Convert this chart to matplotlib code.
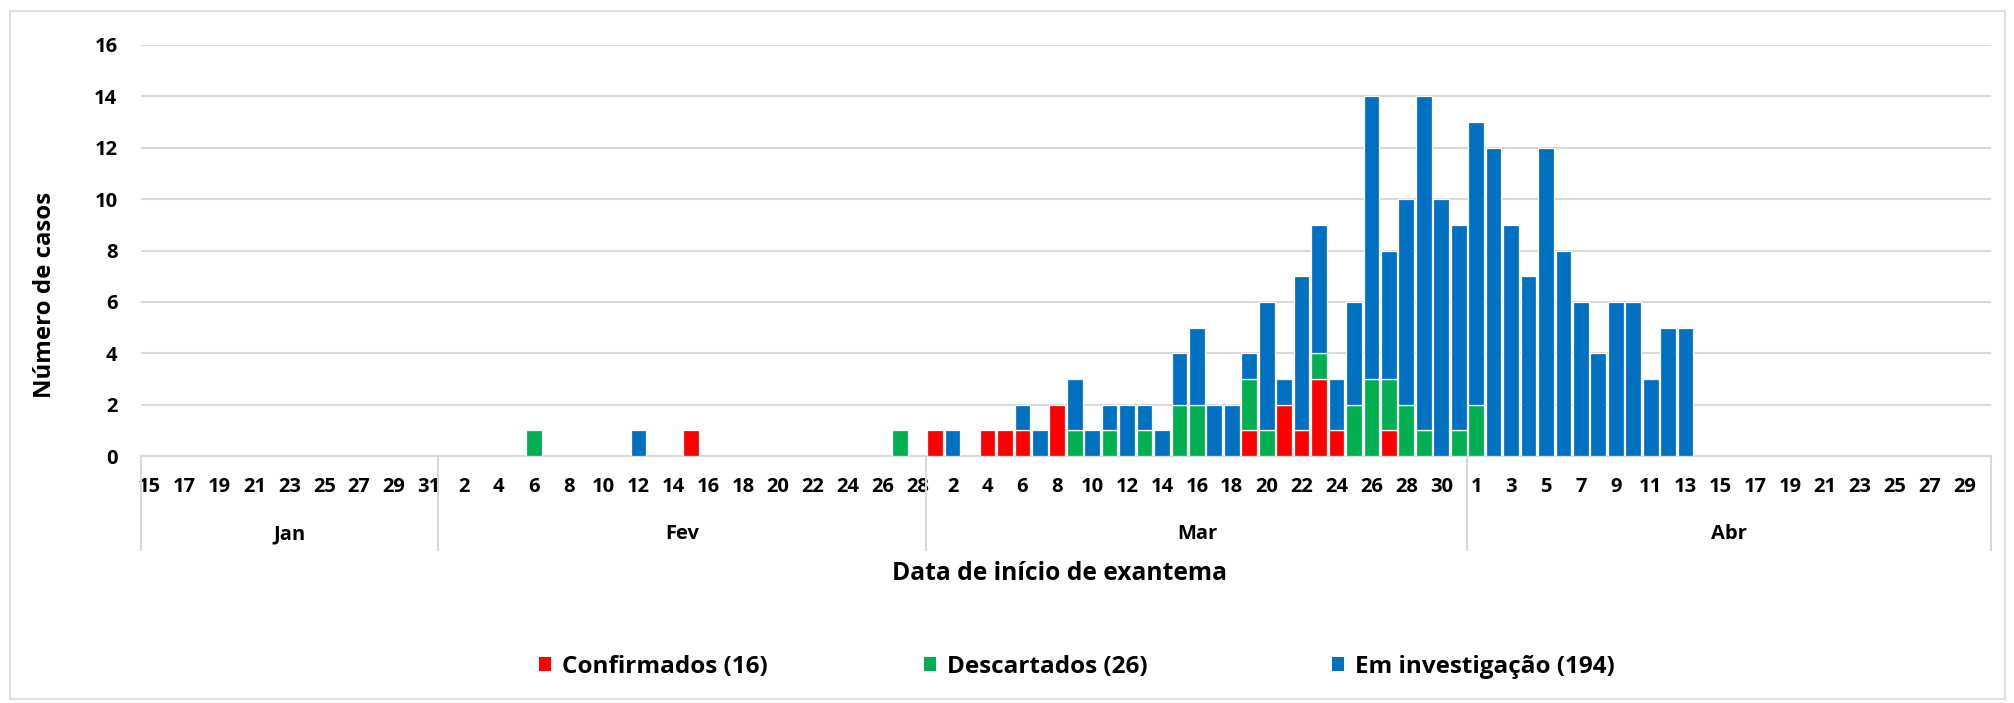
import matplotlib.pyplot as plt
from matplotlib.patches import Rectangle, Patch
import numpy as np

# categorias: dias de 15/jan a 30/abr
months = ['Jan', 'Fev', 'Mar', 'Abr']
month_first = [15, 1, 1, 1]
month_last = [31, 28, 31, 30]

# casos por data de início de exantema (mes, dia, n)
confirmados = [('Fev', 15, 1), ('Mar', 1, 1), ('Mar', 4, 1), ('Mar', 5, 1), ('Mar', 6, 1),
               ('Mar', 8, 2), ('Mar', 19, 1), ('Mar', 21, 2), ('Mar', 22, 1), ('Mar', 23, 3),
               ('Mar', 24, 1), ('Mar', 27, 1)]
descartados = [('Fev', 6, 1), ('Fev', 27, 1), ('Mar', 9, 1), ('Mar', 11, 1), ('Mar', 13, 1),
               ('Mar', 15, 2), ('Mar', 16, 2), ('Mar', 19, 2), ('Mar', 20, 1), ('Mar', 23, 1),
               ('Mar', 25, 2), ('Mar', 26, 3), ('Mar', 27, 2), ('Mar', 28, 2), ('Mar', 29, 1),
               ('Mar', 31, 1), ('Abr', 1, 2)]
investigacao = [('Fev', 12, 1), ('Mar', 2, 1), ('Mar', 6, 1), ('Mar', 7, 1), ('Mar', 9, 2),
                ('Mar', 10, 1), ('Mar', 11, 1), ('Mar', 12, 2), ('Mar', 13, 1), ('Mar', 14, 1),
                ('Mar', 15, 2), ('Mar', 16, 3), ('Mar', 17, 2), ('Mar', 18, 2), ('Mar', 19, 1),
                ('Mar', 20, 5), ('Mar', 21, 1), ('Mar', 22, 6), ('Mar', 23, 5), ('Mar', 24, 2),
                ('Mar', 25, 4), ('Mar', 26, 11), ('Mar', 27, 5), ('Mar', 28, 8), ('Mar', 29, 13),
                ('Mar', 30, 10), ('Mar', 31, 8), ('Abr', 1, 11), ('Abr', 2, 12), ('Abr', 3, 9),
                ('Abr', 4, 7), ('Abr', 5, 12), ('Abr', 6, 8), ('Abr', 7, 6), ('Abr', 8, 4),
                ('Abr', 9, 6), ('Abr', 10, 6), ('Abr', 11, 3), ('Abr', 12, 5), ('Abr', 13, 5)]

series = [('Confirmados (16)', confirmados, '#FF0000'),
          ('Descartados (26)', descartados, '#00B050'),
          ('Em investigação (194)', investigacao, '#0070C0')]

days = [(m, d) for m, a, b in zip(months, month_first, month_last) for d in range(a, b + 1)]
pos = {k: i for i, k in enumerate(days)}
n = len(days)

plt.rcParams['font.family'] = ['Open Sans', 'DejaVu Sans']
plt.rcParams['font.weight'] = 'bold'

fig = plt.figure(figsize=(20.15, 7.03), dpi=100)
fig.patches.append(Rectangle((10 / 2015, 4 / 703), 1995 / 2015, 688 / 703, transform=fig.transFigure,
                             fill=False, edgecolor='#d9d9d9', linewidth=1.2))
ax = fig.add_axes([141 / 2015, 1 - 456 / 703, 1850 / 2015, 411 / 703])

x = np.arange(n)
bottom = np.zeros(n)
handles = []
for label, data, color in series:
    vals = np.zeros(n)
    for m, d, v in data:
        vals[pos[(m, d)]] = v
    mask = vals > 0
    ax.bar(x[mask], vals[mask], bottom=bottom[mask], width=0.9, color=color,
           edgecolor='white', linewidth=0.9, zorder=3)
    bottom += vals
    handles.append(Patch(facecolor=color, label=label))

ax.set_xlim(-0.5, n - 0.5)
ax.set_ylim(0, 16)
ax.set_yticks(range(0, 17, 2))
ax.yaxis.grid(True, color='#d9d9d9', linewidth=1.5)
ax.set_axisbelow(True)
for s in ['top', 'right', 'left']:
    ax.spines[s].set_visible(False)
ax.spines['bottom'].set_color('#d9d9d9')
ax.spines['bottom'].set_linewidth(1.5)
ax.set_xticks(x[::2])
ax.set_xticklabels([str(d) for m, d in days][::2])
ax.tick_params(axis='x', length=0, pad=15, labelsize=14.5)
ax.tick_params(axis='y', length=0, pad=17, labelsize=14.5)

# linhas de separação e rótulos dos meses
trans = ax.get_xaxis_transform()
start = 0
bounds = [0]
for m in months:
    cnt = sum(1 for mm, d in days if mm == m)
    ax.text(start + (cnt - 1) / 2, -0.19, m, transform=trans, ha='center', va='center', fontsize=14.5)
    start += cnt
    bounds.append(start)
for b in bounds:
    ax.plot([b - 0.5, b - 0.5], [0, -0.229], transform=trans, color='#d9d9d9', linewidth=1.5, clip_on=False)

fig.text(1059 / 2015, 1 - 574 / 703, 'Data de início de exantema', ha='center', va='center', fontsize=17.7)
fig.text(45 / 2015, 1 - 295 / 703, 'Número de casos', ha='center', va='center', rotation=90, fontsize=17.3)

for h, xl in zip(handles, [539, 924, 1332]):
    fig.legend(handles=[h], loc='center left', bbox_to_anchor=(xl / 2015, 1 - 667 / 703), frameon=False,
               fontsize=17.5, handlelength=0.5, handleheight=0.5, handletextpad=0.45, borderpad=0, borderaxespad=0)

fig.savefig('out.png', dpi=100)
